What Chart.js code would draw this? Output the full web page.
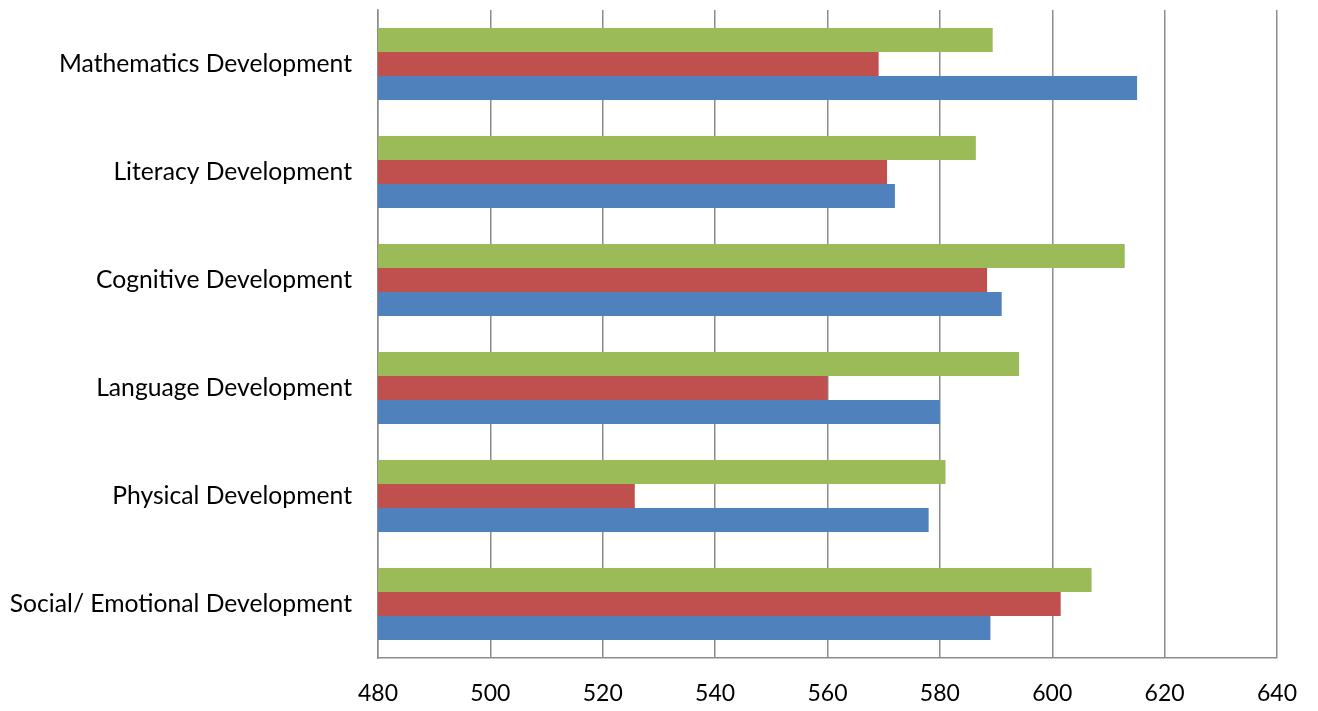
<!DOCTYPE html>
<html>
<head>
<meta charset="utf-8">
<script src="https://cdn.jsdelivr.net/npm/chart.js@4/dist/chart.umd.min.js"></script>
<style>
  html, body { margin: 0; padding: 0; background: #fff; }
  #wrap { width: 1318px; height: 711px; }
</style>
</head>
<body>
<div id="wrap"><canvas id="grafico"></canvas></div>
<script>
const categories = [
  'Mathematics Development',
  'Literacy Development',
  'Cognitive Development',
  'Language Development',
  'Physical Development',
  'Social/ Emotional Development'
];

// top bar of each group
const greenValues = [589.4, 586.4, 612.9, 594.1, 581, 607];
// middle bar
const redValues = [569.1, 570.6, 588.4, 560, 525.7, 601.5];
// bottom bar
const blueValues = [615.1, 572, 591, 580, 578, 589];

const xTicks = [480, 500, 520, 540, 560, 580, 600, 620, 640];

const ctx = document.getElementById('grafico');

new Chart(ctx, {
  type: 'bar',
  data: {
    labels: categories,
    datasets: [
      { label: 'Series 3', data: greenValues, backgroundColor: '#9BBB59' },
      { label: 'Series 2', data: redValues, backgroundColor: '#C0504D' },
      { label: 'Series 1', data: blueValues, backgroundColor: '#4F81BD' }
    ]
  },
  options: {
    indexAxis: 'y',
    responsive: true,
    maintainAspectRatio: false,
    animation: false,
    categoryPercentage: 0.667,
    barPercentage: 1,
    layout: { padding: { top: 10, right: 41, left: 0, bottom: 0 } },
    plugins: {
      legend: { display: false },
      tooltip: { enabled: false }
    },
    scales: {
      x: {
        min: xTicks[0],
        max: xTicks[xTicks.length - 1],
        afterBuildTicks: (scale) => { scale.ticks = xTicks.map(v => ({ value: v })); },
        grid: { color: '#8c8c8c', lineWidth: 1.5, drawTicks: false },
        border: { color: '#8c8c8c', width: 1.5 },
        ticks: { color: '#000', font: { family: 'Lato', size: 23 }, padding: 22 },
        afterFit: (scale) => {
          scale.height = 53;
          scale.paddingTop = 0; scale.paddingBottom = 0;
          scale.paddingLeft = 0; scale.paddingRight = 0;
        }
      },
      y: {
        grid: { display: false, drawTicks: false },
        border: { color: '#8c8c8c', width: 1.5 },
        ticks: { color: '#000', font: { family: 'Lato', size: 24.7 }, padding: 26 },
        afterFit: (scale) => {
          scale.width = 378;
          scale.paddingTop = 0; scale.paddingBottom = 0;
        }
      }
    }
  }
});
</script>
</body>
</html>
